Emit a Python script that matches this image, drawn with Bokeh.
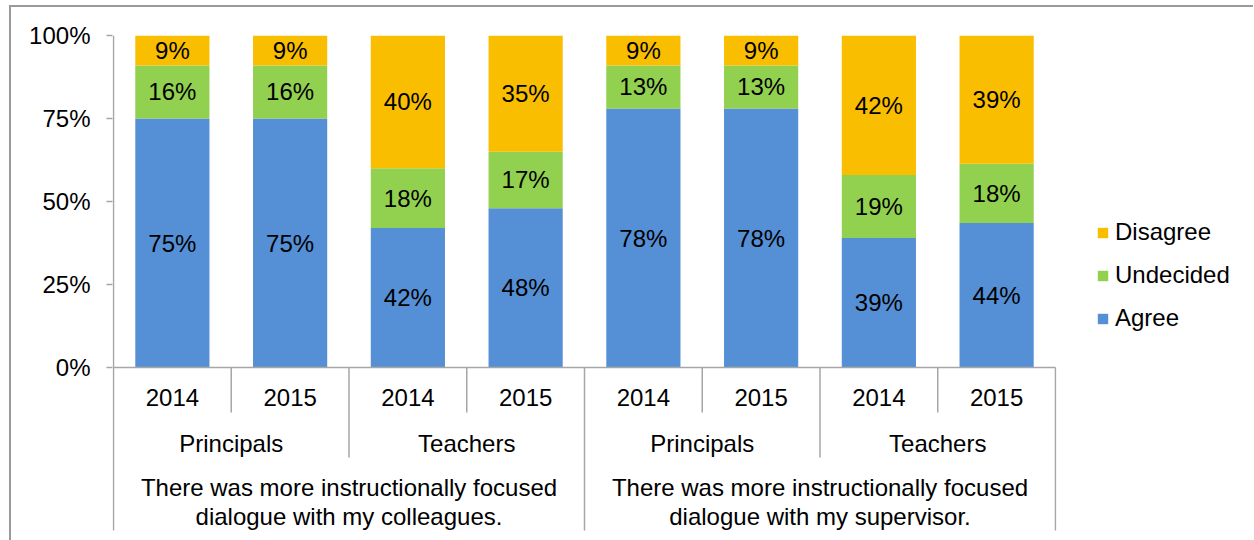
from bokeh.plotting import figure
from bokeh.layouts import row
from bokeh.models import (FactorRange, Range1d, FixedTicker, NumeralTickFormatter,
                          Legend, LegendItem, LinearAxis, ColumnDataSource)
from bokeh.core.properties import value
from bokeh.embed import file_html
from bokeh.resources import INLINE

# ---------------- data ----------------
questions = ["There was more instructionally focused\ndialogue with my colleagues.",
             "There was more instructionally focused\ndialogue with my supervisor."]
groups = ["Principals", "Teachers"]
years = ["2014", "2015"]
agree = [75, 75, 42, 48, 78, 78, 39, 44]
undecided = [16, 16, 18, 17, 13, 13, 19, 18]
disagree = [9, 9, 40, 35, 9, 9, 42, 39]
series_names = ["Agree", "Undecided", "Disagree"]
colors = ["#558FD5", "#92D050", "#FABE00"]
y_ticks = [0, 0.25, 0.5, 0.75, 1.0]

FONT = "Liberation Sans"
FS = "24px"
GRID = "#A6A6A6"
Y_START = -0.521

factors = [(q, g, y) for q in questions for g in groups for y in years]

# normalise to 100% stacks
totals = [a + u + d for a, u, d in zip(agree, undecided, disagree)]
fa = [a / t for a, t in zip(agree, totals)]
fu = [u / t for u, t in zip(undecided, totals)]
fd = [d / t for d, t in zip(disagree, totals)]

x_range = FactorRange(factors=factors, group_padding=0, subgroup_padding=0,
                      factor_padding=0, range_padding=0.0085,
                      range_padding_units="absolute")
p = figure(x_range=x_range, y_range=Range1d(Y_START, 1.0),
           width=1050, height=533, output_backend="svg", toolbar_location=None,
           x_axis_location=None, y_axis_location=None,
           min_border_left=101, min_border_right=5, min_border_top=28,
           min_border_bottom=0, outline_line_color=None,
           background_fill_color="white", border_fill_color="white")
p.grid.visible = False

yaxis = LinearAxis(ticker=FixedTicker(ticks=y_ticks),
                   formatter=NumeralTickFormatter(format="0%"),
                   bounds=(0, 1), axis_line_color=None,
                   major_tick_out=6, major_tick_in=0,
                   major_tick_line_color=GRID, major_tick_line_width=1.5,
                   minor_tick_line_color=None,
                   major_label_text_font=FONT, major_label_text_font_size=FS,
                   major_label_text_color="black", major_label_standoff=16)
p.add_layout(yaxis, "left")

src = ColumnDataSource(dict(x=factors, Agree=fa, Undecided=fu, Disagree=fd))
rends = p.vbar_stack(series_names, x="x", width=0.63, color=colors,
                     line_color=None, source=src)

# segment labels
cum = [0.0] * len(factors)
for vals, fr in [(agree, fa), (undecided, fu), (disagree, fd)]:
    mids = [c + f / 2 for c, f in zip(cum, fr)]
    cum = [c + f for c, f in zip(cum, fr)]
    p.text(x=factors, y=mids, text=[f"{v}%" for v in vals],
           text_align="center", text_baseline="middle",
           text_font=value(FONT), text_font_size=FS, text_color="black")

# category axis lines
first, last = factors[0], factors[-1]
p.segment(x0=[first + (-0.5,)], y0=[0], x1=[last + (0.5,)], y1=[0],
          line_color=GRID, line_width=1.5)
p.segment(x0=[first + (-0.5,)], y0=[1.0], x1=[first + (-0.5,)], y1=[-0.491],
          line_color=GRID, line_width=1.5)
ysep = [(q, g, years[0], 0.5) for q in questions for g in groups]
p.segment(x0=ysep, y0=[0] * len(ysep), x1=ysep, y1=[-0.1355] * len(ysep),
          line_color=GRID, line_width=1.5)
gsep = [(q, groups[0], years[-1], 0.5) for q in questions]
p.segment(x0=gsep, y0=[0] * len(gsep), x1=gsep, y1=[-0.271] * len(gsep),
          line_color=GRID, line_width=1.5)
qsep = [(q, groups[-1], years[-1], 0.5) for q in questions]
p.segment(x0=qsep, y0=[0] * len(qsep), x1=qsep, y1=[-0.491] * len(qsep),
          line_color=GRID, line_width=1.5)

# category labels
p.text(x=factors, y=[-0.0904] * len(factors), text=[f[2] for f in factors],
       text_align="center", text_baseline="middle",
       text_font=value(FONT), text_font_size=FS, text_color="black")
gfac = [(q, g) for q in questions for g in groups]
p.text(x=gfac, y=[-0.229] * len(gfac), text=[g for _, g in gfac],
       text_align="center", text_baseline="middle",
       text_font=value(FONT), text_font_size=FS, text_color="black")
p.text(x=questions, y=[-0.405] * len(questions), text=questions,
       text_align="center", text_baseline="middle", text_line_height=1.1,
       text_font=value(FONT), text_font_size=FS, text_color="black")

# ---------------- legend panel ----------------
# shares the data source; its y range keeps the bars out of view so only the
# legend is seen
pleg = figure(width=192, height=533, output_backend="svg", toolbar_location=None,
              x_axis_location=None, y_axis_location=None,
              x_range=x_range, y_range=Range1d(5, 6),
              min_border=0, outline_line_color=None,
              background_fill_color="white", border_fill_color="white")
pleg.grid.visible = False
leg_rends = pleg.vbar_stack(series_names, x="x", width=0.63, color=colors,
                            line_color=None, source=src)
legend = Legend(items=[LegendItem(label=series_names[i], renderers=[leg_rends[i]])
                       for i in (2, 1, 0)],
                location=(35, 208), padding=0, margin=0, spacing=15,
                glyph_width=13, glyph_height=13, label_standoff=6,
                label_text_font=FONT, label_text_font_size=FS,
                label_text_color="black", border_line_color=None,
                background_fill_alpha=0)
pleg.add_layout(legend)

layout = row(p, pleg, spacing=0)
layout.styles = {"border-left": "2px solid #9a9a9a", "border-top": "2px solid #9a9a9a",
                 "margin-left": "9px", "margin-top": "5px"}

open("out.html", "w").write(file_html(layout, INLINE))
